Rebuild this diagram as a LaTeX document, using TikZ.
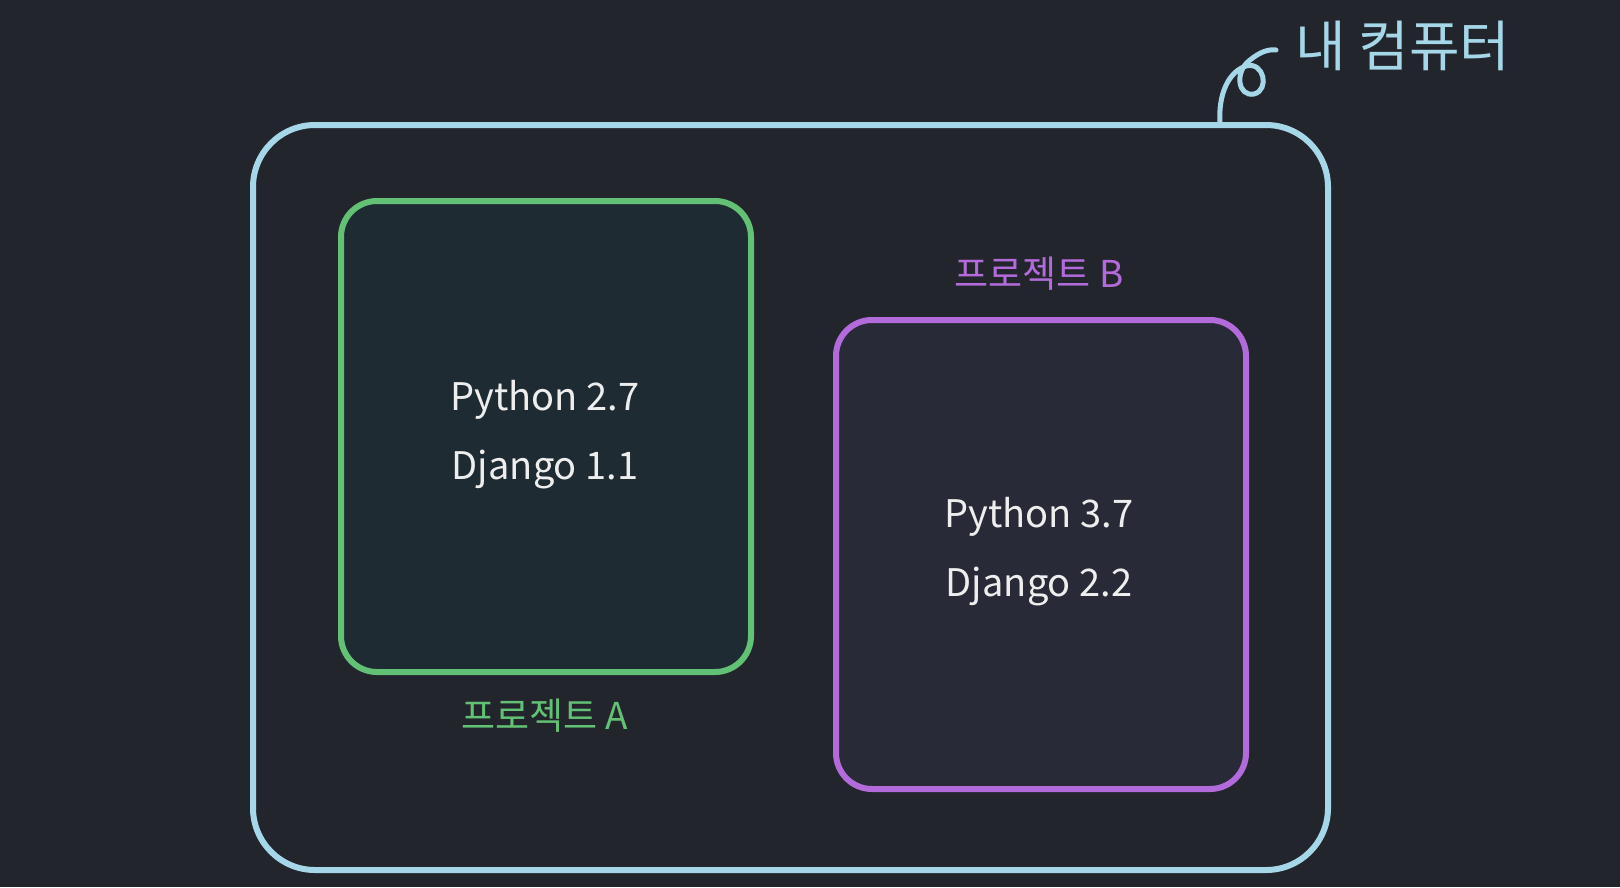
\documentclass[tikz,border=0pt]{standalone}
\usepackage{fontspec}
\setmainfont{Noto Sans CJK KR}
\definecolor{bg}{HTML}{23252D}
\definecolor{outerc}{HTML}{A6D7E8}
\definecolor{greenc}{HTML}{62C174}
\definecolor{greenfill}{HTML}{1F2B33}
\definecolor{purplec}{HTML}{B36BDB}
\definecolor{purplefill}{HTML}{282A37}
\definecolor{txt}{HTML}{EEEEEE}
\tikzset{
  frame/.style={line width=6pt, rounded corners=#1},
  body/.style={text=txt, font=\fontsize{38}{44}\selectfont, align=center},
  label/.style={font=\fontsize{37}{42}\selectfont}
}
\begin{document}
\begin{tikzpicture}[x=1pt,y=-1pt]
\fill[bg] (0,0) rectangle (1620,887);
\useasboundingbox (0,0) rectangle (1620,887);
% outer box
\draw[frame=62pt, draw=outerc] (253,125) rectangle (1328,870);
\coordinate (ob) at (1220,124);
% green box
\node[draw=greenc, fill=greenfill, line width=6pt, rounded corners=36pt, minimum width=410pt, minimum height=471pt, inner sep=0pt] (ga) at (546,436.5) {};
% purple box
\node[draw=purplec, fill=purplefill, line width=6pt, rounded corners=36pt, minimum width=410pt, minimum height=469pt, inner sep=0pt] (pb) at (1041,554.5) {};
% texts
\node[body] (p27) at (545,400) {Python 2.7};
\node[body] (d11) at (545,470) {Django 1.1};
\node[body] (p37) at (1039,517) {Python 3.7};
\node[body] (d22) at (1039,587) {Django 2.2};
\node[label, text=greenc] (la) at (545,716) {프로젝트 A};
\node[label, text=purplec] (lb) at (1039,274) {프로젝트 B};
\node[font=\fontsize{55}{60}\selectfont, text=outerc] (mc) at (1403,46) {내 컴퓨터};
% curl
\coordinate (ce) at (1276,50);
\draw[outerc, line width=5pt, line cap=round] (ob) .. controls (1218,95) and (1228,72) .. (1246,66)
  .. controls (1264,61) and (1270,90) .. (1254,94)
  .. controls (1238,97) and (1234,72) .. (1250,60)
  .. controls (1260,52) and (1268,49) .. (ce);
\end{tikzpicture}
\end{document}
